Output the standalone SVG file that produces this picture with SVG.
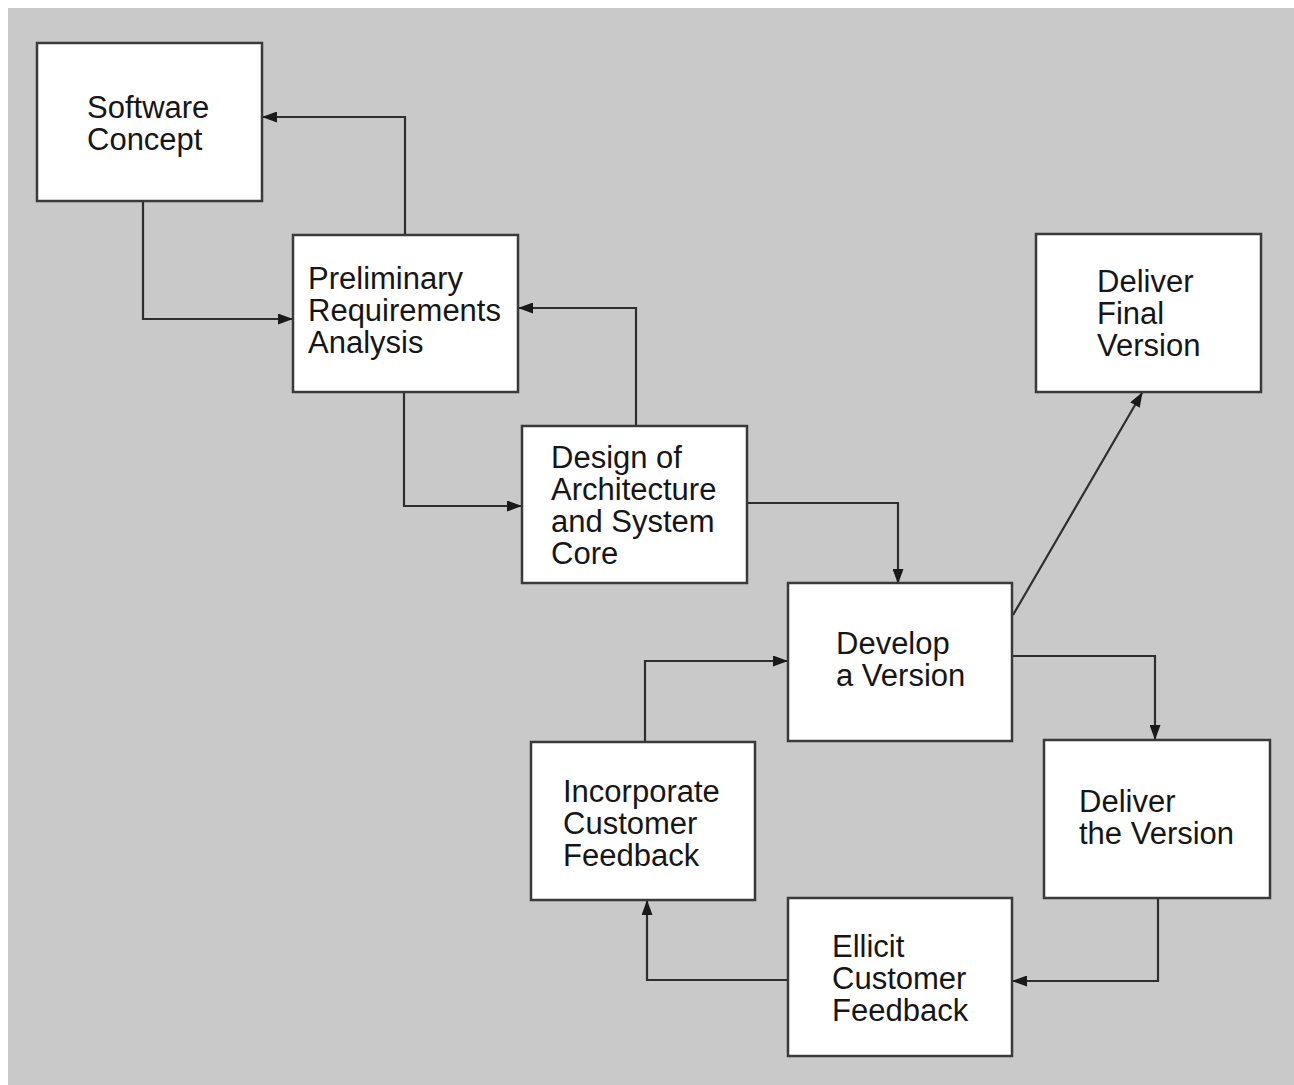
<svg xmlns="http://www.w3.org/2000/svg" width="1294" height="1085" viewBox="0 0 1294 1085">
<style>
.box{fill:#ffffff;stroke:#3a3a3a;stroke-width:2.5}
.lbl{font-family:"Liberation Sans",Arial,Helvetica,sans-serif;font-size:31px;fill:#161616}
.conn{fill:none;stroke:#2e2e2e;stroke-width:2.2}
</style>
<defs>
<marker id="ah" markerWidth="15" markerHeight="11" refX="14" refY="5.5" orient="auto" markerUnits="userSpaceOnUse">
<path d="M0,0 L15,5.5 L0,11 z" fill="#1a1a1a"/>
</marker>
</defs>
<rect x="0" y="0" width="1294" height="1085" fill="#ffffff"/>
<rect x="8" y="8" width="1286" height="1077" fill="#c9c9c9"/>
<g id="connectors">
<path class="conn" d="M405,235 V117 H263" marker-end="url(#ah)"/>
<path class="conn" d="M143,201 V319 H292" marker-end="url(#ah)"/>
<path class="conn" d="M636,426 V308 H519" marker-end="url(#ah)"/>
<path class="conn" d="M404,392 V506 H521" marker-end="url(#ah)"/>
<path class="conn" d="M747,503 H898 V583" marker-end="url(#ah)"/>
<path class="conn" d="M1013,615 L1142,393" marker-end="url(#ah)"/>
<path class="conn" d="M1012,656 H1155 V739" marker-end="url(#ah)"/>
<path class="conn" d="M1158,898 V981 H1013" marker-end="url(#ah)"/>
<path class="conn" d="M788,980 H647 V901" marker-end="url(#ah)"/>
<path class="conn" d="M645,742 V661 H787" marker-end="url(#ah)"/>
</g>
<g id="software-concept">
<rect class="box" x="37" y="43" width="225" height="158"/>
<text class="lbl" x="87" y="118">Software</text>
<text class="lbl" x="87" y="150">Concept</text>
</g>
<g id="preliminary-requirements">
<rect class="box" x="293" y="235" width="225" height="157"/>
<text class="lbl" x="308" y="289">Preliminary</text>
<text class="lbl" x="308" y="321">Requirements</text>
<text class="lbl" x="308" y="353">Analysis</text>
</g>
<g id="design-architecture">
<rect class="box" x="522" y="426" width="225" height="157"/>
<text class="lbl" x="551" y="468">Design of</text>
<text class="lbl" x="551" y="500">Architecture</text>
<text class="lbl" x="551" y="532">and System</text>
<text class="lbl" x="551" y="564">Core</text>
</g>
<g id="deliver-final-version">
<rect class="box" x="1036" y="234" width="225" height="158"/>
<text class="lbl" x="1097" y="292">Deliver</text>
<text class="lbl" x="1097" y="324">Final</text>
<text class="lbl" x="1097" y="356">Version</text>
</g>
<g id="develop-version">
<rect class="box" x="788" y="583" width="224" height="158"/>
<text class="lbl" x="836" y="654">Develop</text>
<text class="lbl" x="836" y="686">a Version</text>
</g>
<g id="incorporate-feedback">
<rect class="box" x="531" y="742" width="224" height="158"/>
<text class="lbl" x="563" y="802">Incorporate</text>
<text class="lbl" x="563" y="834">Customer</text>
<text class="lbl" x="563" y="866">Feedback</text>
</g>
<g id="deliver-the-version">
<rect class="box" x="1044" y="740" width="226" height="158"/>
<text class="lbl" x="1079" y="812">Deliver</text>
<text class="lbl" x="1079" y="844">the Version</text>
</g>
<g id="ellicit-feedback">
<rect class="box" x="788" y="898" width="224" height="158"/>
<text class="lbl" x="832" y="957">Ellicit</text>
<text class="lbl" x="832" y="989">Customer</text>
<text class="lbl" x="832" y="1021">Feedback</text>
</g>
</svg>
